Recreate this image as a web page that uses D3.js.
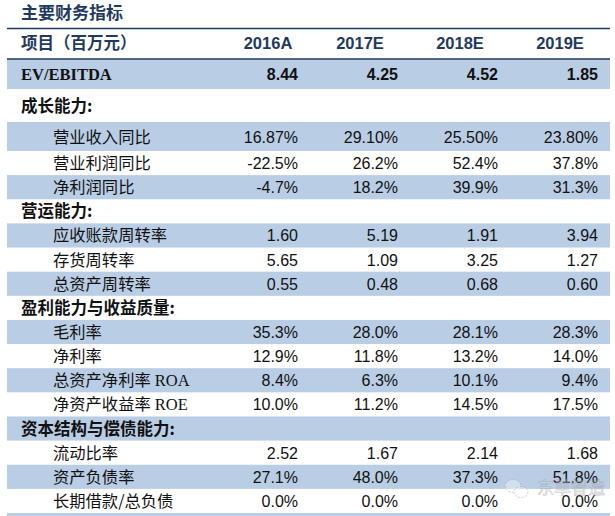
<!DOCTYPE html>
<html><head><meta charset="utf-8">
<script src="https://cdn.jsdelivr.net/npm/d3@7"></script>
<style>body{margin:0;background:#fff}</style>
</head><body>
<script>
const title = "主要财务指标";
const headerLabel = "项目（百万元）";
const years = ["2016A","2017E","2018E","2019E"];
const rowLabels = ["EV/EBITDA","成长能力:","营业收入同比","营业利润同比","净利润同比","营运能力:","应收账款周转率","存货周转率","总资产周转率","盈利能力与收益质量:","毛利率","净利率","总资产净利率 ROA","净资产收益率 ROE","资本结构与偿债能力:","流动比率","资产负债率","长期借款/总负债"];
const rowTypes = ["ev","section","item","item","item","section","item","item","item","section","item","item","item","item","section","item","item","item"];
const rowShaded = [1,0,1,0,1,0,1,0,1,0,1,0,1,0,1,0,1,0];
const rowFormats = [".2f","","pct2","pct1","pct1","",".2f",".2f",".2f","","pct1","pct1","pct1","pct1","",".2f","pct1","pct1"];
const v2016 = [8.44,null,16.87,-22.5,-4.7,null,1.60,5.65,0.55,null,35.3,12.9,8.4,10.0,null,2.52,27.1,0.0];
const v2017 = [4.25,null,29.10,26.2,18.2,null,5.19,1.09,0.48,null,28.0,11.8,6.3,11.2,null,1.67,48.0,0.0];
const v2018 = [4.52,null,25.50,52.4,39.9,null,1.91,3.25,0.68,null,28.1,13.2,10.1,14.5,null,2.14,37.3,0.0];
const v2019 = [1.85,null,23.80,37.8,31.3,null,3.94,1.27,0.60,null,28.3,14.0,9.4,17.5,null,1.68,51.8,0.0];
const watermark = "东单智造";

const W = 615, H = 516;
const navy = "#1f3a60", shade = "#b9cde5";
const cjk = "'Noto Sans CJK SC','Noto Sans',sans-serif";
const arial = "'Liberation Sans',Arial,sans-serif";
const serif = "'Liberation Serif','Times New Roman',serif";

const svg = d3.select("body").append("svg").attr("width", W).attr("height", H);

const x = d3.scalePoint().domain(years).range([298, 598]);
// row layout
const tops = [59, 89, 122];
const restScale = d3.scaleBand().domain(d3.range(3, rowLabels.length)).range([151, 513]);
function rowTop(i){ return i < 3 ? tops[i] : restScale(i); }
function rowH(i){ return i === 0 ? 30 : i === 1 ? 33 : i === 2 ? 29 : restScale.bandwidth(); }

const fmt = (v, f) => {
  if (v === null) return "";
  if (f === "pct2") return d3.format(".2f")(v) + "%";
  if (f === "pct1") return d3.format(".1f")(v).replace("−","-") + "%";
  return d3.format(f)(v);
};

// title
svg.append("text").attr("x", 21).attr("y", 19).attr("fill", navy)
  .attr("font-family", cjk).attr("font-weight", 700).attr("font-size", 17).text(title);
// top line
svg.append("line").attr("x1", 7).attr("x2", 610).attr("y1", 28.5).attr("y2", 28.5).attr("stroke", navy).attr("stroke-width", 1.5);
// header
svg.append("text").attr("x", 21).attr("y", 49).attr("fill", navy)
  .attr("font-family", cjk).attr("font-weight", 700).attr("font-size", 16.5).text(headerLabel);
svg.selectAll("text.yr").data(years).join("text").attr("class","yr")
  .attr("x", (d,i) => x(d) - (i === 0 ? 30 : 38)).attr("y", 49).attr("text-anchor","middle")
  .attr("fill", navy).attr("font-family", arial).attr("font-weight", 700).attr("font-size", 16.5).text(d => d);

// shaded bands
svg.selectAll("rect.band").data(d3.range(rowLabels.length).filter(i => rowShaded[i])).join("rect")
  .attr("class","band").attr("x", 7).attr("width", 603)
  .attr("y", i => rowTop(i)).attr("height", i => rowH(i)).attr("fill", shade);
svg.append("rect").attr("x", 7).attr("width", 603).attr("y", 513).attr("height", 3).attr("fill", shade);
svg.append("line").attr("x1", 7).attr("x2", 610).attr("y1", 59).attr("y2", 59).attr("stroke", navy).attr("stroke-width", 1.3);

// row labels
const lab = svg.selectAll("text.lab").data(d3.range(rowLabels.length)).join("text").attr("class","lab")
  .attr("x", i => rowTypes[i] === "item" ? 53 : 21)
  .attr("y", i => rowTop(i) + rowH(i)/2 + 6)
  .attr("fill", "#111")
  .attr("font-size", i => rowTypes[i] === "item" ? 16.3 : 16.5)
  .attr("font-weight", i => rowTypes[i] === "item" ? 400 : 700)
  .attr("font-family", i => rowTypes[i] === "ev" ? serif : cjk);
lab.each(function(i){
  const t = d3.select(this), s = rowLabels[i];
  const m = s.match(/^(.*?)( (ROA|ROE))$/);
  if (m) {
    t.append("tspan").text(m[1]);
    t.append("tspan").attr("font-family", serif).attr("font-size", 16.5).text(m[2]);
  } else t.text(s);
});

// values
const series = [v2016, v2017, v2018, v2019];
years.forEach((yr, c) => {
  svg.selectAll("text.v" + c).data(d3.range(rowLabels.length).filter(i => series[c][i] !== null)).join("text")
    .attr("class","v" + c).attr("x", x(yr)).attr("text-anchor","end")
    .attr("y", i => rowTop(i) + rowH(i)/2 + 6)
    .attr("fill", "#111").attr("font-family", arial).attr("font-size", 16)
    .attr("font-weight", i => rowTypes[i] === "ev" ? 700 : 400)
    .text(i => fmt(series[c][i], rowFormats[i]));
});

// watermark
const wm = svg.append("g").attr("opacity", 0.6);
const ic = wm.append("g").attr("transform","translate(516,489)").attr("fill","rgba(255,255,255,0.6)").attr("stroke","#aaa").attr("stroke-width",1).attr("stroke-dasharray","2,1.5");
ic.append("ellipse").attr("cx",-3).attr("cy",-3).attr("rx",8).attr("ry",6.5);
ic.append("ellipse").attr("cx",5).attr("cy",3).attr("rx",7).attr("ry",5.5);
wm.append("text").attr("x", 537).attr("y", 494).attr("font-family", cjk).attr("font-size", 17)
  .attr("fill","rgba(255,255,255,0.5)").attr("stroke","#999").attr("stroke-width",0.6).text(watermark);
</script>
</body></html>
